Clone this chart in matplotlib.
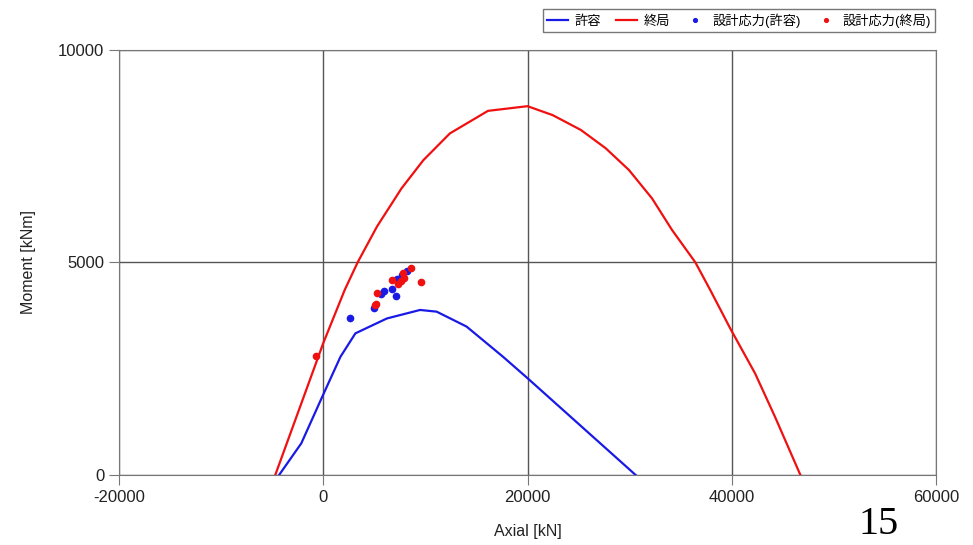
import matplotlib.pyplot as plt

# 終局 (ultimate) interaction curve
ult_n = [-4700, 0, 2100, 3370, 5260, 7670, 9800, 12400, 16130, 20000, 22460,
         25230, 27660, 29930, 32200, 34150, 36430, 37890, 39840, 42280, 44230, 46720]
ult_m = [0, 3100, 4350, 5000, 5840, 6740, 7400, 8030, 8560, 8670, 8460,
         8110, 7680, 7170, 6500, 5760, 5000, 4350, 3450, 2390, 1370, 0]

# 許容 (allowable) interaction curve
alw_n = [-4325, -2150, -100, 1685, 3146, 6230, 9480, 11100, 14030, 17600, 20030, 30590]
alw_m = [0, 745, 1840, 2780, 3330, 3680, 3880, 3840, 3490, 2780, 2270, 0]

# design forces
dsn_alw_n = [2650, 5000, 5700, 5950, 6750, 7100, 7200, 7700, 8200]
dsn_alw_m = [3700, 3930, 4250, 4330, 4370, 4200, 4600, 4700, 4800]
dsn_ult_n = [-700, 5100, 5200, 5300, 6700, 7350, 7600, 7850, 7900, 8550, 9550]
dsn_ult_m = [2790, 3990, 4030, 4270, 4590, 4500, 4560, 4760, 4640, 4870, 4540]

x_ticks = [-20000, 0, 20000, 40000, 60000]
y_ticks = [0, 5000, 10000]

plt.rcParams['font.family'] = ['Liberation Sans', 'Noto Sans CJK JP', 'DejaVu Sans']
plt.rcParams['axes.unicode_minus'] = False

fig = plt.figure(figsize=(9.73, 5.45), dpi=100)
ax = fig.add_axes([0.1223, 0.1284, 0.8397, 0.7806])

ax.plot(alw_n, alw_m, color='#1a1ae6', lw=1.6, label='許容')
ax.plot(ult_n, ult_m, color='#f01010', lw=1.6, label='終局')
ax.plot(dsn_alw_n, dsn_alw_m, 'o', color='#1a1ae6', ms=4.5, label='設計応力(許容)')
ax.plot(dsn_ult_n, dsn_ult_m, 'o', color='#f01010', ms=4.5, label='設計応力(終局)')

ax.set_xlim(-20000, 60000)
ax.set_ylim(0, 10000)
ax.set_xticks(x_ticks)
ax.set_yticks(y_ticks)
ax.grid(True, color='#555555', lw=1)
ax.set_axisbelow(True)
for s in ax.spines.values():
    s.set_color('#777777')
ax.tick_params(direction='out', length=7, color='#777777', labelsize=12, labelcolor='#222222')
ax.set_xlabel('Axial [kN]', fontsize=11.5, color='#222222', labelpad=14)
ax.set_ylabel('Moment [kNm]', fontsize=11.5, color='#222222', labelpad=16)

leg = fig.legend(loc='upper right', bbox_to_anchor=(0.968, 0.995), ncol=4,
                 fontsize=9.5, frameon=True, fancybox=False, handlelength=1.6,
                 handletextpad=0.5, columnspacing=1.1, borderpad=0.3,
                 markerscale=0.6)
leg.get_frame().set_edgecolor('#555555')
leg.get_frame().set_linewidth(1)

fig.text(0.903, 0.003, '15', fontsize=29, family='Liberation Serif',
         ha='center', va='bottom')

fig.savefig('out.png', dpi=100)
